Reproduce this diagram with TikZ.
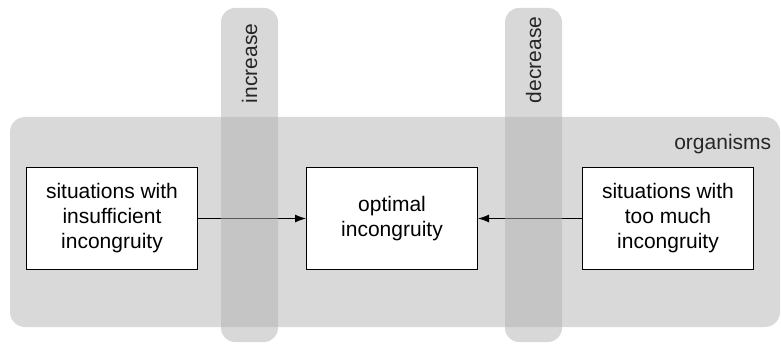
\documentclass[tikz,border=0pt]{standalone}
\usepackage{fontspec}
\setmainfont{Liberation Sans}
\usetikzlibrary{positioning, arrows.meta}

\begin{document}
\begin{tikzpicture}[>={Latex[length=11pt,width=8pt]}, line width=1pt,
    situation/.style={draw, fill=white, minimum width=171pt, minimum height=101pt, align=center, inner sep=2pt, font=\fontsize{21}{25}\selectfont},
    lbl/.style={text=black!85, font=\fontsize{21}{25}\selectfont},
    band/.style={fill=black!30, fill opacity=0.5, rounded corners=14pt}]
            \useasboundingbox (0,0) rectangle (781pt,343pt);
            \fill[black!15, rounded corners=15pt] (10pt,16pt) rectangle (780pt,226pt);
            \node[lbl, anchor=base east] (org) at (775pt,193pt) {organisms};

            \node[situation] (opt) at (392pt,124.5pt) {optimal\\incongruity};
            \node[situation, left=108pt of opt] (low) {situations with\\insufficient\\incongruity};
            \node[situation, right=104pt of opt] (high) {situations with\\too much\\incongruity};

            \draw
            (low) edge[->] (opt)
            (high) edge[->] (opt);

            \fill[band] (221pt,1pt) rectangle (278pt,335pt);
            \fill[band] (505pt,1pt) rectangle (562pt,335pt);
            \node[lbl, rotate=90, anchor=west] (inc) at (249.5pt,236pt) {increase};
            \node[lbl, rotate=90, anchor=west] (dec) at (533.5pt,236pt) {decrease};
        \end{tikzpicture}
\end{document}
